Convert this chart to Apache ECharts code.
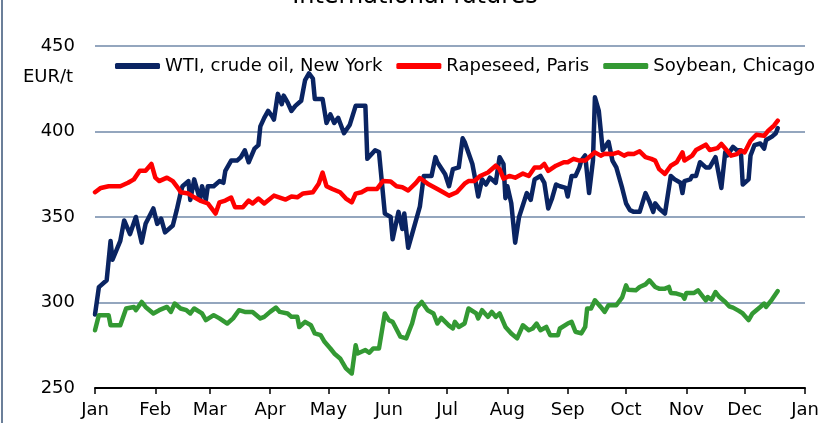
<!DOCTYPE html>
<html>
<head>
<meta charset="utf-8">
<script src="https://cdn.jsdelivr.net/npm/echarts@6/dist/echarts.min.js"></script>
<style>
html,body{margin:0;padding:0;background:#fff;}
#chart{width:824px;height:423px;}
</style>
</head>
<body>
<div id="chart"></div>
<script>
// Month tick labels
var monthLabels = ['Jan','Feb','Mar','Apr','May','Jun','Jul','Aug','Sep','Oct','Nov','Dec'];
var seriesNames = ['WTI, crude oil, New York', 'Rapeseed, Paris', 'Soybean, Chicago'];
var chartTitle = 'International futures';

// Day offsets from 1 January and values (EUR/t)
var wtiDays = [0,2,6,8,9,13,15,18,21,24,26,30,32,34,36,40,42,44,45,48,49,51,54,55,57,58,61,64,66,67,70,73,75,77,79,82,84,85,87,89,91,92,94,96,97,99,101,103,106,108,110,112,113,117,119,121,123,125,128,131,134,139,140,144,146,149,152,153,156,158,159,161,163,164,167,169,173,175,176,180,182,184,187,189,190,194,195,197,199,201,203,206,208,210,211,212,214,216,218,222,224,226,229,231,233,235,237,239,242,243,245,247,249,250,252,254,256,257,259,261,262,264,266,268,271,273,275,277,280,283,285,287,288,290,293,296,298,301,302,303,306,307,309,311,314,316,319,320,322,324,325,328,330,332,333,336,337,339,342,344,345,348,350,351];
var wtiVals = [293,309,313,336,325,336,348,340,350,335,346,355,346,349,341,345,354,364,368,371,360,372,360,368,360,368,368,371,370,377,383,383,385,389,382,390,392,403,408,412,409,407,422,416,421,417,412,415,418,430,434,431,419,419,405,410,405,408,399,404,415,415,384,389,388,352,350,337,353,343,352,332,340,341,356,374,374,385,382,375,368,378,379,396,394,381,375,362,372,369,373,370,385,381,361,368,358,335,350,364,360,372,374,370,355,361,369,368,367,362,374,374,379,383,386,364,383,420,412,389,390,394,383,379,367,358,354,353,353,364,359,353,358,355,352,374,372,370,364,371,372,374,374,382,379,379,385,379,367,388,386,391,389,389,369,372,386,392,393,390,395,397,399,402];

var rapeDays = [0,3,7,10,13,17,20,23,26,29,31,33,37,40,43,44,48,51,54,58,62,64,67,70,72,76,79,81,84,87,92,98,101,104,107,112,115,117,119,122,126,129,132,134,137,140,145,148,152,155,158,159,161,165,167,171,176,179,182,186,190,192,195,198,202,206,208,210,213,216,220,223,226,229,231,233,237,241,243,246,249,252,254,257,260,262,266,269,272,274,277,280,283,286,288,290,293,296,299,302,303,307,309,314,316,320,322,325,327,330,332,334,337,340,344,346,349,351];
var rapeVals = [364.5,367,368,368,368,370,372,377,377,381,373,371,373,371,366.4,364.5,363.7,361.5,359.6,357.9,352,358.6,359.6,361.4,355.7,355.7,359.6,357.9,360.8,357.9,362.5,360.2,362,361.5,363.8,364.5,369.5,376,368,366.4,364.5,360.8,358.6,363.7,364.5,366.4,366.4,371,370.8,368,367.4,367.8,365.5,370,372.8,369.5,366.4,364.5,362.5,364.5,369.5,371,371,374,376,380,378,372.4,374,373,375.4,374,379,379,381,377,380,382,382,384,383,383,385,387.8,385.9,387,386.8,387.8,385.9,387,386.8,388.4,385,384,383,378,375.2,380,382,387.8,383,385.9,389.2,392.3,389.2,390.3,392.7,388.8,385.9,386.8,388.8,387.8,394.6,398.1,397.5,400.4,403.4,406.3];

var soyDays = [0,2,7,8,13,16,20,21,24,26,30,33,37,39,41,44,47,49,51,55,57,61,64,68,71,74,77,81,85,87,90,93,95,99,101,104,105,108,111,113,116,118,121,123,126,129,132,134,135,139,141,143,146,149,151,153,157,160,163,165,168,171,174,176,178,182,184,185,187,190,192,196,197,199,202,204,206,208,211,214,217,220,223,225,227,229,232,234,238,239,243,245,247,250,252,253,255,257,260,262,264,268,269,271,273,274,275,278,280,283,285,286,288,290,293,295,296,299,302,303,304,308,310,312,314,315,317,319,321,324,326,328,331,333,336,338,342,344,345,348,351];
var soyVals = [283.8,292.6,292.6,286.7,286.7,296.5,297.4,295.5,300.3,297.4,293.6,295.5,297.4,294.5,299.4,296.5,295.5,293.6,296.5,293.6,289.7,292.6,290.7,287.7,290.7,295.5,294.5,294.5,290.7,291.6,294.5,297,294.5,293.6,291.6,291.6,285.7,288.7,286.7,281.9,280.9,277,273.1,270.2,267.3,261.5,258.5,275,270.2,272.2,270.6,273.1,273.1,293.6,289.7,288.7,280,279,287.7,296.5,300.3,295.5,293.6,287.7,291,286.5,284.8,288.7,285.7,287.7,296.5,293.6,290.7,295.5,291.6,294.5,291.6,293.6,285.7,281.9,279,286.7,283.8,284.8,287.7,283.8,285.7,280.9,280.9,284.8,287.7,288.7,282.9,281.9,285.7,296.5,296.5,301.3,297.4,294.5,298.4,298.4,297.4,303,310,307.5,307.1,307.1,309.1,310.6,313,313.4,309.1,308.1,308.1,309.1,305.6,305.2,304.2,302.2,305.6,305.6,307.1,304.2,301.3,303.2,301.7,306.1,303.2,300.3,297.8,297,295.1,293.6,289.7,293.6,297.4,299.4,297.4,301.7,306.7];

var DAY = 86400000;
var start = Date.UTC(2021, 0, 1);
function build(days, vals) {
  return days.map(function (d, i) { return [start + d * DAY, vals[i]]; });
}

var FONT = 'DejaVu Sans';
var chart = echarts.init(document.getElementById('chart'), null, {renderer: 'canvas'});
function lineSeries(name, days, vals, color) {
  return {
    name: name, type: 'line', showSymbol: false, symbol: 'none',
    data: build(days, vals),
    lineStyle: {color: color, width: 4.5, cap: 'round', join: 'round'},
    itemStyle: {color: color},
    emphasis: {disabled: true}
  };
}
chart.setOption({
  animation: false,
  useUTC: true,
  backgroundColor: '#fff',
  legend: {
    top: 52, left: 110, itemWidth: 45, itemHeight: 6, itemGap: 14,
    icon: 'roundRect',
    data: seriesNames,
    textStyle: {fontFamily: FONT, fontSize: 18, color: '#000'}
  },
  grid: {left: 95, right: 19, top: 46, bottom: 35, containLabel: false},
  xAxis: {
    type: 'time',
    min: start, max: Date.UTC(2022, 0, 1),
    minInterval: 28 * DAY, maxInterval: 31 * DAY,
    axisLine: {show: true, lineStyle: {color: '#000', width: 2}},
    axisTick: {show: true, length: 6, lineStyle: {color: '#000', width: 1.5}},
    splitLine: {show: false},
    axisLabel: {
      fontFamily: FONT, fontSize: 18, color: '#000', margin: 13,
      showMinLabel: true, showMaxLabel: true, hideOverlap: false,
      formatter: function (v) { return monthLabels[new Date(v).getUTCMonth()]; }
    }
  },
  yAxis: {
    type: 'value', min: 250, max: 450, interval: 50,
    axisLine: {show: false}, axisTick: {show: false},
    splitLine: {show: true, lineStyle: {color: '#7089a8', width: 1.5}},
    axisLabel: {fontFamily: FONT, fontSize: 18, color: '#000', margin: 20}
  },
  graphic: [
    {type: 'line', shape: {x1: 2, y1: 0, x2: 2, y2: 423}, style: {stroke: '#6b7f99', lineWidth: 2}},
    {type: 'text', left: 23, top: 68, style: {text: 'EUR/t', font: '18px "DejaVu Sans"', fill: '#000'}},
    {type: 'text', x: 415, y: 9, style: {text: chartTitle, font: '24px "DejaVu Sans"', fill: '#000', align: 'center', verticalAlign: 'bottom'}}
  ],
  series: [
    lineSeries(seriesNames[0], wtiDays, wtiVals, '#0a2462'),
    lineSeries(seriesNames[1], rapeDays, rapeVals, '#ff0000'),
    lineSeries(seriesNames[2], soyDays, soyVals, '#339933')
  ]
});
</script>
</body>
</html>
